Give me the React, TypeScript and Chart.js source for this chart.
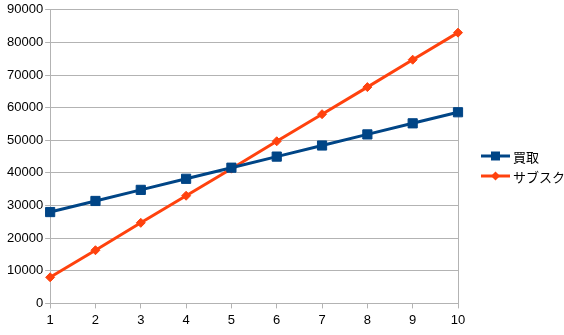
import React, { useEffect, useRef } from "react";
import { Chart, registerables } from "chart.js";

Chart.register(...registerables);

const categories = ["1", "2", "3", "4", "5", "6", "7", "8", "9", "10"];
const kaitoriValues = [28000, 31400, 34800, 38200, 41600, 45000, 48400, 51800, 55200, 58600];
const subscValues = [8000, 16300, 24700, 33000, 41300, 49700, 58000, 66300, 74700, 83000];
const seriesNames = ["買取", "サブスク"];
const yMin = 0;
const yMax = 90000;
const yStep = 10000;

const BLUE = "#004586";
const ORANGE = "#ff420e";
const GRID = "#b3b3b3";
const FONT = "'Liberation Sans', Arial, sans-serif";

const legendPlugin = {
  id: "sideLegend",
  afterDraw(chart: any) {
    const ctx = chart.ctx;
    const area = chart.chartArea;
    const x0 = area.right + 23;
    const rows = [156, 176];
    ctx.save();
    chart.data.datasets.forEach((ds: any, i: number) => {
      const y = rows[i];
      ctx.strokeStyle = ds.borderColor;
      ctx.lineWidth = 3;
      ctx.beginPath();
      ctx.moveTo(x0, y);
      ctx.lineTo(x0 + 29, y);
      ctx.stroke();
      ctx.fillStyle = ds.pointBackgroundColor;
      const cx = x0 + 14.5;
      ctx.beginPath();
      if (ds.pointStyle === "rect") {
        ctx.rect(cx - 4.5, y - 4.5, 9, 9);
      } else {
        ctx.moveTo(cx, y - 4.5);
        ctx.lineTo(cx + 4.5, y);
        ctx.lineTo(cx, y + 4.5);
        ctx.lineTo(cx - 4.5, y);
        ctx.closePath();
      }
      ctx.fill();
      ctx.fillStyle = "#000";
      ctx.font = "13px 'Noto Sans CJK JP', sans-serif";
      ctx.textBaseline = "middle";
      ctx.textAlign = "left";
      ctx.fillText(ds.label, x0 + 32, y + 1);
    });
    ctx.restore();
  },
};

export default function App() {
  const ref = useRef<HTMLCanvasElement | null>(null);
  useEffect(() => {
    if (!ref.current) return;
    const chart = new Chart(ref.current, {
      type: "line",
      data: {
        labels: categories,
        datasets: [
          {
            label: seriesNames[0],
            data: kaitoriValues,
            borderColor: BLUE,
            backgroundColor: BLUE,
            pointBackgroundColor: BLUE,
            pointBorderColor: BLUE,
            borderWidth: 3,
            pointStyle: "rect",
            pointRadius: 6.5,
            pointBorderWidth: 1,
            tension: 0,
          },
          {
            label: seriesNames[1],
            data: subscValues,
            borderColor: ORANGE,
            backgroundColor: ORANGE,
            pointBackgroundColor: ORANGE,
            pointBorderColor: ORANGE,
            borderWidth: 3,
            pointStyle: "rectRot",
            pointRadius: 4.5,
            pointBorderWidth: 1,
            tension: 0,
          },
        ],
      },
      options: {
        responsive: false,
        animation: false,
        layout: { padding: { left: 5, right: 106, top: 4, bottom: 3 } },
        plugins: { legend: { display: false }, tooltip: { enabled: false } },
        scales: {
          x: {
            offset: false,
            grid: {
              display: true,
              drawOnChartArea: true,
              color: (c: any) =>
                c.index === categories.length - 1 ? GRID : "rgba(0,0,0,0)",
              tickColor: GRID,
              tickLength: 5,
            },
            border: { display: true, color: GRID, width: 1 },
            ticks: {
              color: "#000",
              font: { family: FONT, size: 13 },
              padding: 4,
              maxRotation: 0,
              autoSkip: false,
            },
          },
          y: {
            min: yMin,
            max: yMax,
            grid: { color: GRID, tickColor: GRID, tickLength: 5 },
            border: { display: true, color: GRID, width: 1 },
            ticks: {
              stepSize: yStep,
              color: "#000",
              font: { family: FONT, size: 13 },
              padding: 2,
              callback: (v: any) => String(v),
            },
          },
        },
      },
      plugins: [legendPlugin],
    });
    return () => chart.destroy();
  }, []);
  return (
    <div style={{ position: "fixed", left: 0, top: 0, width: 564, height: 335, background: "#fff" }}>
      <canvas ref={ref} width={564} height={335} />
    </div>
  );
}
